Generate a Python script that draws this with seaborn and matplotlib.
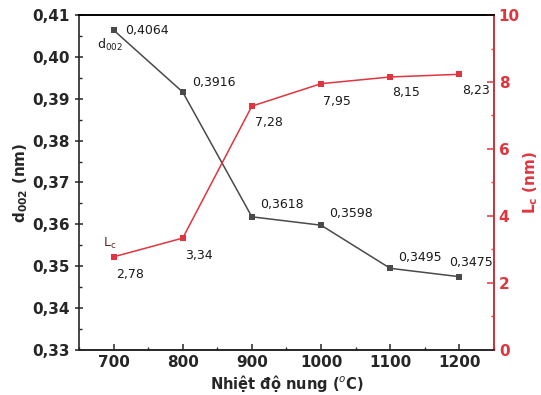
import matplotlib
matplotlib.use("Agg")
import matplotlib.pyplot as plt
import seaborn as sns
import pandas as pd
from matplotlib.ticker import MultipleLocator, FuncFormatter

temps = [700, 800, 900, 1000, 1100, 1200]
d002 = [0.4064, 0.3916, 0.3618, 0.3598, 0.3495, 0.3475]
lc = [2.78, 3.34, 7.28, 7.95, 8.15, 8.23]
d_labels = ["0,4064", "0,3916", "0,3618", "0,3598", "0,3495", "0,3475"]
lc_labels = ["2,78", "3,34", "7,28", "7,95", "8,15", "8,23"]

sns.set_style("ticks")
plt.rcParams['font.family'] = ['DejaVu Sans']

GRAY = "#4a4a4a"
RED = "#e0353f"

df = pd.DataFrame({"T": temps, "d": d002, "Lc": lc})

fig = plt.figure(figsize=(5.41, 3.95), dpi=100)
ax = fig.add_axes([0.146, 0.114, 0.767, 0.848])
ax2 = ax.twinx()

sns.lineplot(data=df, x="T", y="d", ax=ax, color=GRAY, marker="s", markersize=5,
             markeredgewidth=0, linewidth=1.1)
sns.lineplot(data=df, x="T", y="Lc", ax=ax2, color=RED, marker="s", markersize=5,
             markeredgewidth=0, linewidth=1.1)

ax.set_xlim(650, 1250)
ax.set_ylim(0.33, 0.41)
ax2.set_ylim(0, 10)

ax.xaxis.set_major_locator(MultipleLocator(100))
ax.xaxis.set_minor_locator(MultipleLocator(50))
ax.yaxis.set_major_locator(MultipleLocator(0.01))
ax.yaxis.set_minor_locator(MultipleLocator(0.005))
ax2.yaxis.set_major_locator(MultipleLocator(2))
ax2.yaxis.set_minor_locator(MultipleLocator(1))

ax.yaxis.set_major_formatter(FuncFormatter(lambda v, p: f"{v:.2f}".replace(".", ",")))

for a in (ax, ax2):
    for s in a.spines.values():
        s.set_linewidth(1.2)
ax.spines["top"].set_color("black")
ax2.spines["top"].set_color("black")
ax2.spines["right"].set_color(RED)
ax2.spines["left"].set_visible(False)

ax.tick_params(axis="both", which="major", direction="in", length=4, width=1.1,
               labelsize=11)
ax.tick_params(axis="both", which="minor", direction="in", length=2.5, width=1)
ax.tick_params(axis="y", which="major", direction="inout", length=6)
ax2.tick_params(axis="y", which="major", direction="in", length=5, width=1.1,
                colors=RED, labelsize=11)
ax2.tick_params(axis="y", which="minor", direction="in", length=2.5, width=1, colors=RED)
for lab in ax.get_xticklabels() + ax.get_yticklabels():
    lab.set_fontweight("bold")
for lab in ax2.get_yticklabels():
    lab.set_fontweight("bold")
    lab.set_color(RED)

ax.set_xlabel("Nhiệt độ nung ($^{o}$C)", fontsize=10.5, fontweight="bold", labelpad=2)
ax.set_ylabel(r"d$_{\mathbf{002}}$ (nm)", fontsize=11, fontweight="bold", labelpad=2)
ax2.set_ylabel(r"L$_{\mathbf{c}}$ (nm)", fontsize=11, fontweight="bold", color=RED, labelpad=1)

d_off = [(12, 0), (9, 10), (8, 12), (8, 12), (8, 11), (-10, 14)]
for x, y, t, o in zip(temps, d002, d_labels, d_off):
    ax.annotate(t, (x, y), xytext=o, textcoords="offset pixels", fontsize=9,
                ha="left", va="center", color="#1a1a1a")
lc_off = [(3, -18), (2, -17), (3, -16), (2, -18), (2, -16), (3, -16)]
for x, y, t, o in zip(temps, lc, lc_labels, lc_off):
    ax2.annotate(t, (x, y), xytext=o, textcoords="offset pixels", fontsize=9,
                 ha="left", va="center", color="#1a1a1a")

ax.annotate(r"d$_{\mathrm{002}}$", (700, 0.4064), xytext=(-17, -15), textcoords="offset pixels",
            fontsize=9, ha="left", va="center", color="#1a1a1a")
ax2.annotate(r"L$_{\mathrm{c}}$", (700, 2.78), xytext=(-11, 13), textcoords="offset pixels",
             fontsize=9, ha="left", va="center", color="#5a2a2a")

fig.savefig("out.png", dpi=100)
